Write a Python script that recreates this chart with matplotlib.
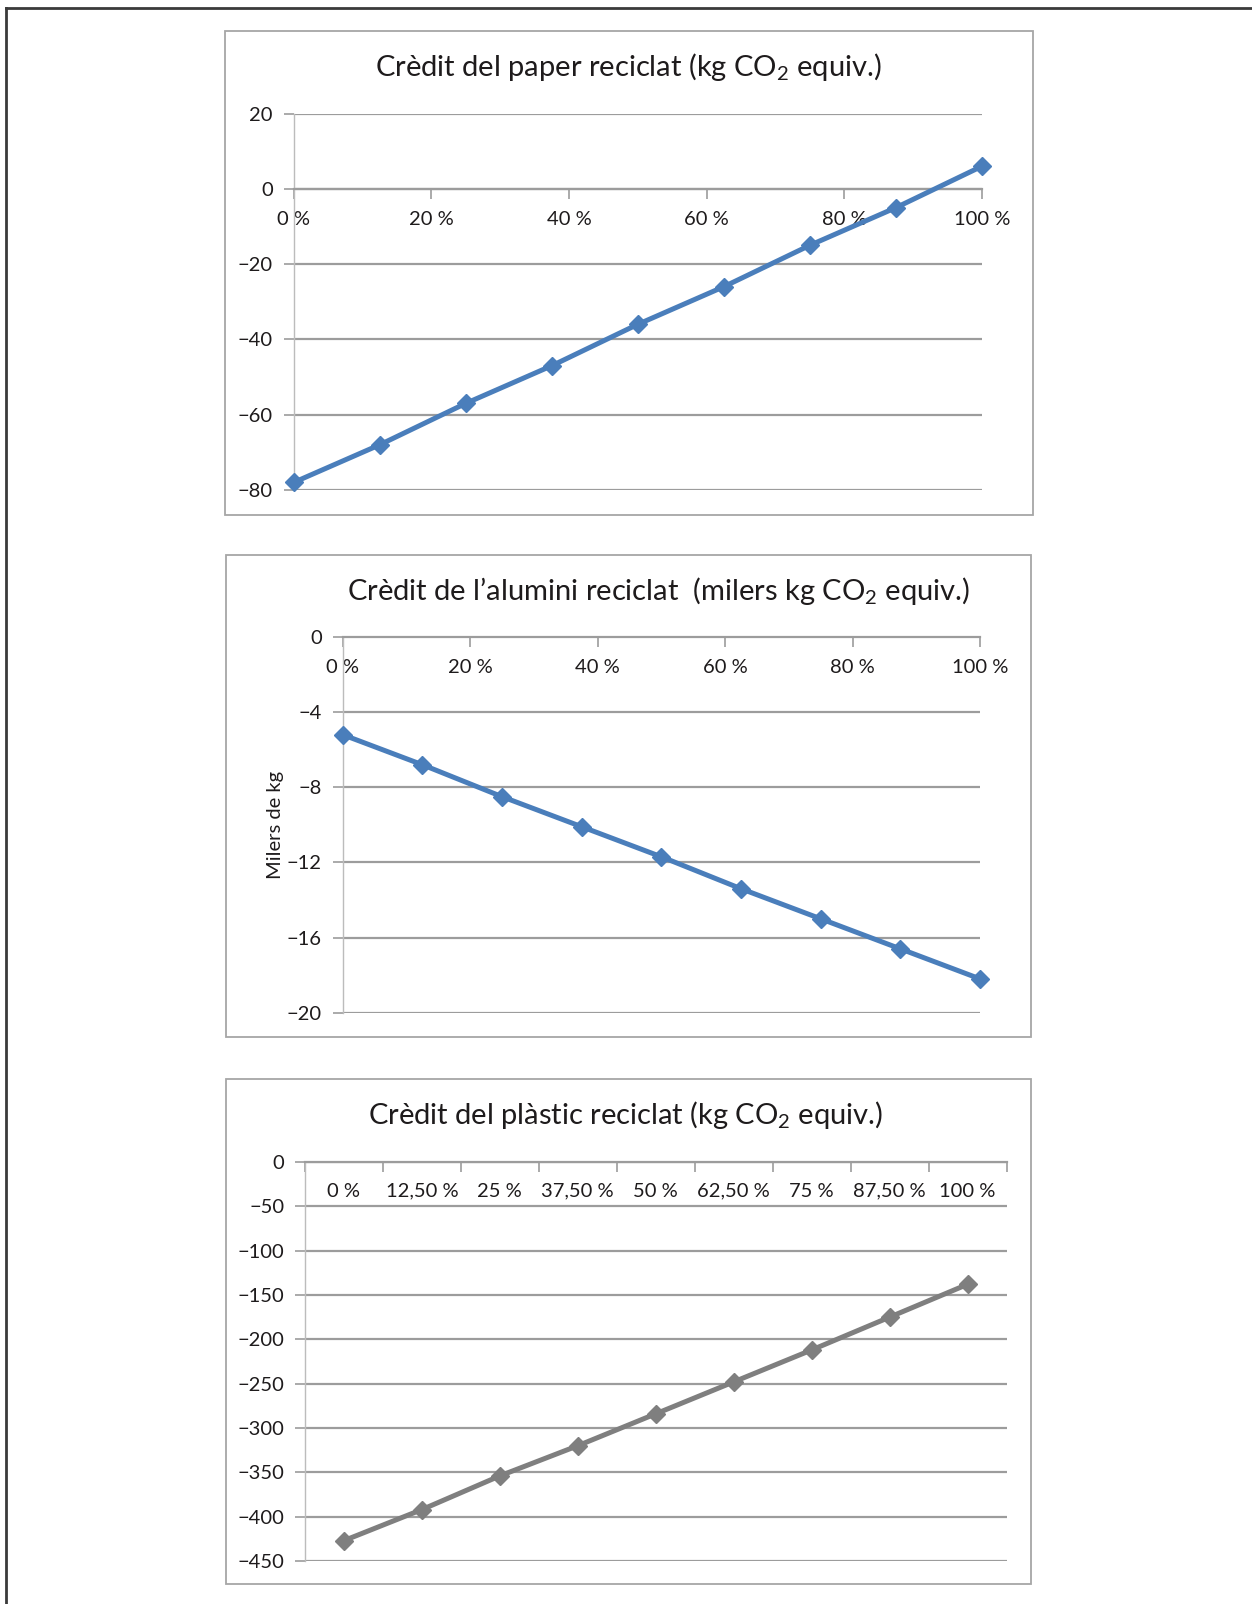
import matplotlib
matplotlib.use("Agg")
import matplotlib.pyplot as plt
from matplotlib.patches import Rectangle
from matplotlib.lines import Line2D
from matplotlib.ticker import MultipleLocator, FixedLocator

plt.rcParams['font.family'] = ['Lato', 'DejaVu Sans']
plt.rcParams['mathtext.fontset'] = 'custom'
plt.rcParams['mathtext.rm'] = 'Lato'
plt.rcParams['mathtext.default'] = 'rm'

# share of material recycled
fractions = [0, 0.125, 0.25, 0.375, 0.5, 0.625, 0.75, 0.875, 1.0]

paper_credit = [-78, -68, -57, -47, -36, -26, -15, -5, 6]
aluminium_credit = [-5.2, -6.8, -8.5, -10.1, -11.7, -13.4, -15.0, -16.6, -18.2]
plastic_credit = [-427, -392, -354, -320, -284, -248, -212, -175, -138]

value_ticks = [0, 0.2, 0.4, 0.6, 0.8, 1.0]
value_labels = ['0 %', '20 %', '40 %', '60 %', '80 %', '100 %']
plastic_labels = ['0 %', '12,50 %', '25 %', '37,50 %', '50 %', '62,50 %',
                  '75 %', '87,50 %', '100 %']

BLUE = '#4a7ebb'
GREY_LINE = '#7f7f7f'
GRID = '#9c9c9c'
AXIS = '#bcbcbc'
TXT = '#1e1b1c'
TICK_FS = 14.5
TITLE_FS = 21

W, H = 1252, 1604
fig = plt.figure(figsize=(W / 100, H / 100), dpi=100)


def frac(l, t, r, b):
    return [l / W, 1 - b / H, (r - l) / W, (b - t) / H]


def minus(v):
    return f'{v:g}'.replace('-', '\u2212')


# outer page frame (top and left edges only)
fig.add_artist(Line2D([6 / W, 1], [1 - 8 / H, 1 - 8 / H], color='#3a3a3a', lw=2))
fig.add_artist(Line2D([6 / W, 6 / W], [0, 1 - 8 / H], color='#3a3a3a', lw=2))

# chart boxes
for l, t, r, b in [(225, 31, 1033, 515), (226, 555, 1031, 1037), (226, 1079, 1031, 1584)]:
    fig.add_artist(Rectangle((l / W, 1 - b / H), (r - l) / W, (b - t) / H,
                             transform=fig.transFigure, fill=False,
                             edgecolor='#a6a6a6', lw=1.3))


def style(ax, ymin, ymax, ystep):
    ax.set_ylim(ymin, ymax)
    ax.yaxis.set_major_locator(MultipleLocator(ystep))
    ax.yaxis.set_major_formatter(plt.FuncFormatter(lambda v, p: minus(v)))
    ax.grid(axis='y', color=GRID, lw=1.6)
    ax.set_axisbelow(True)
    for s in ['top', 'right']:
        ax.spines[s].set_visible(False)
    ax.spines['left'].set_color(AXIS)
    ax.spines['left'].set_linewidth(1.0)
    ax.spines['bottom'].set_position(('data', 0))
    ax.spines['bottom'].set_color(GRID)
    ax.spines['bottom'].set_linewidth(1.6)
    ax.tick_params(axis='y', direction='out', length=7, width=1.2, color=GRID,
                   labelsize=TICK_FS, labelcolor=TXT, pad=8)
    ax.tick_params(axis='x', direction='out', length=7, width=1.2, color=GRID,
                   labelsize=TICK_FS, labelcolor=TXT, pad=9)


# paper
ax1 = fig.add_axes(frac(293.6, 113.5, 982, 490))
ax1.plot(fractions, paper_credit, color=BLUE, lw=3.6, marker='D', ms=9, zorder=3,
         clip_on=False)
ax1.set_xlim(0, 1)
ax1.set_xticks(value_ticks, value_labels)
style(ax1, -80, 20, 20)
fig.text(628 / W, 1 - 76 / H, 'Crèdit del paper reciclat (kg CO$_2$ equiv.)',
         ha='center', va='baseline', fontsize=TITLE_FS, color=TXT)

# aluminium
ax2 = fig.add_axes(frac(342.7, 637, 980, 1012.7))
ax2.plot(fractions, aluminium_credit, color=BLUE, lw=3.6, marker='D', ms=9, zorder=3,
         clip_on=False)
ax2.set_xlim(0, 1)
ax2.set_xticks(value_ticks, value_labels)
style(ax2, -20, 0, 4)
ax2.grid(False)
for v in [-4, -8, -12, -16, -20]:
    ax2.axhline(v, color=GRID, lw=1.6, zorder=0)
ax2.set_ylabel('Milers de kg', fontsize=TICK_FS, color=TXT, labelpad=2)
fig.text(659 / W, 1 - 600 / H, 'Crèdit de l\u2019alumini reciclat  (milers kg CO$_2$ equiv.)',
         ha='center', va='baseline', fontsize=TITLE_FS, color=TXT)

# plastic
ax3 = fig.add_axes(frac(305, 1162, 1006.5, 1561))
ax3.plot([i + 0.5 for i in range(len(plastic_credit))], plastic_credit,
         color=GREY_LINE, lw=3.6, marker='D', ms=9, zorder=3, clip_on=False)
ax3.set_xlim(0, len(plastic_labels))
ax3.xaxis.set_major_locator(FixedLocator(range(len(plastic_labels) + 1)))
ax3.xaxis.set_major_formatter(plt.NullFormatter())
ax3.xaxis.set_minor_locator(FixedLocator([i + 0.5 for i in range(len(plastic_labels))]))
ax3.set_xticklabels(plastic_labels, minor=True)
style(ax3, -450, 0, 50)
ax3.tick_params(axis='x', which='minor', length=0, labelsize=TICK_FS,
                labelcolor=TXT, pad=15)
fig.text(626 / W, 1 - 1124 / H, 'Crèdit del plàstic reciclat (kg CO$_2$ equiv.)',
         ha='center', va='baseline', fontsize=TITLE_FS, color=TXT)

fig.savefig('out.png', dpi=100, facecolor='white')
